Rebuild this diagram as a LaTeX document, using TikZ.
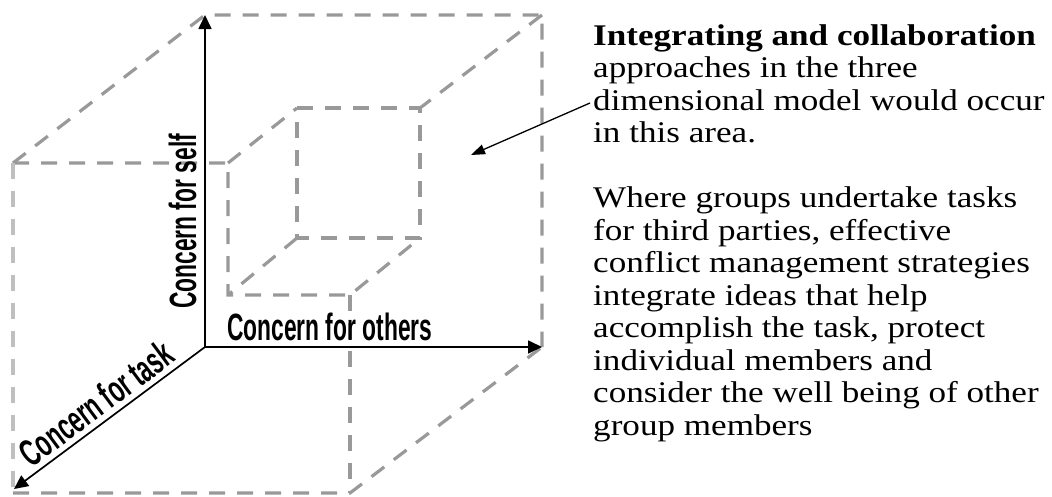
\documentclass[tikz,border=0pt]{standalone}
\usepackage{fontspec}
\setmainfont{Liberation Serif}
\newfontfamily\labelfont{Liberation Sans}
\usetikzlibrary{arrows.meta,positioning,calc}
\newcommand{\axtext}[1]{\scalebox{0.6}[1]{#1}}

\begin{document}
\begin{tikzpicture}[
  x=1pt, y=-1pt,
  edge/.style={draw=gray!80, line width=3.2pt, dash pattern=on 16pt off 12pt},
  faint/.style={draw=gray!50, line width=3.2pt, dash pattern=on 16pt off 12pt},
  axis/.style={-{Triangle[length=14pt,width=13pt]}, line width=1.7pt, draw=black},
  axlbl/.style={font=\labelfont\bfseries\fontsize{38}{40}\selectfont, inner sep=0pt},
  note/.style={font=\fontsize{30}{32.5}\selectfont, align=left, inner sep=0pt, xscale=1.17},
  pointer/.style={-{Triangle[length=14pt,width=10pt]}, line width=1.3pt, draw=black}
]
\useasboundingbox (0,0) rectangle (1052,496);
% axes origin and tips
\coordinate (O) at (205,347);
\coordinate (selftip) at (205,15);
\coordinate (otherstip) at (542,347);
\coordinate (tasktip) at (14,489);
% outer cube
\coordinate (btl) at (205,15);
\coordinate (btr) at (542,15);
\coordinate (bbr) at (542,347);
\coordinate (ftl) at (13,163);
\coordinate (fbl) at (13,493);
\coordinate (fbr) at (350,493);
% inner box
\coordinate (itl) at (228,163);
\coordinate (ibl) at (228,295);
\coordinate (ibr) at (350,295);
\coordinate (jtl) at (297,108);
\coordinate (jtr) at (420,108);
\coordinate (jbr) at (420,238);
\coordinate (jbl) at (297,238);

\draw[edge] (ftl) -- (btl) -- (btr) -- (bbr);
\draw[edge] (btr) -- (jtr);
\draw[edge] (jtl) -- (jtr) -- (jbr) -- (jbl) -- cycle;
\draw[edge] (ftl) -- (itl) -- (ibl) -- (ibr) -- (jbr);
\draw[edge] (itl) -- (jtl);
\draw[edge] (jbl) -- (ibl);
\draw[edge] (ibr) -- (fbr);
\draw[faint] (ftl) -- (fbl);
\draw[edge] (fbl) -- (fbr) -- (bbr);

\draw[axis] (O) -- (selftip);
\draw[axis] (O) -- (otherstip);
\draw[axis] (O) -- (tasktip);

\node[axlbl, anchor=base west] (others) at (227,340) {\axtext{Concern for others}};
\node[axlbl, rotate=90, anchor=base west] (self) at (196,309) {\axtext{Concern for self}};
\node[axlbl, rotate=36.6, anchor=base] (task) at ($(O)!0.508!(tasktip)+(-3.6,-4.8)$) {\axtext{Concern for task}};

\node[note, anchor=north west] (notes) at (593,24) {\textbf{Integrating and collaboration}\\
approaches in the three\\
dimensional model would occur\\
in this area.\\[\baselineskip]
Where groups undertake tasks\\
for third parties, effective\\
conflict management strategies\\
integrate ideas that help\\
accomplish the task, protect\\
individual members and\\
consider the well being of other\\
group members};
\coordinate (ptail) at (590,103);
\coordinate (phead) at (471,155);
\draw[pointer] (ptail) -- (phead);
\end{tikzpicture}
\end{document}
